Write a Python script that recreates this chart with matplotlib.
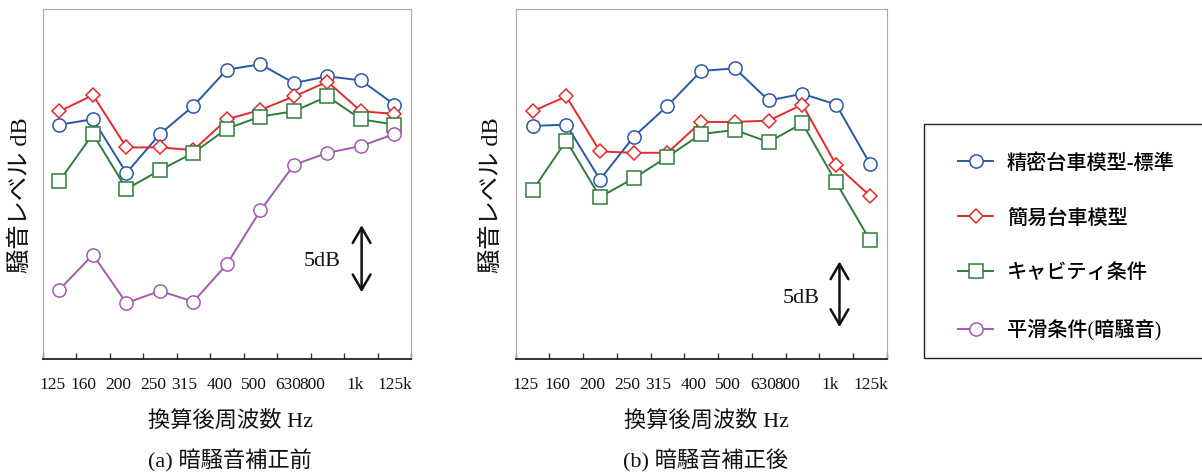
import matplotlib
matplotlib.use("Agg")
import matplotlib.pyplot as plt
from matplotlib.patches import Rectangle

# ---------------- data ----------------
freq_labels = ["125", "160", "200", "250", "315", "400", "500", "630", "800", "1k", "125k"]

series_names = ["精密台車模型-標準", "簡易台車模型", "キャビティ条件", "平滑条件(暗騒音)"]

# (a) before background-noise correction (relative dB)
a_precise = [17.5, 17.9, 13.9, 16.8, 18.9, 21.6, 22.0, 20.6, 21.1, 20.8, 19.0]
a_simple  = [18.5, 19.7, 15.8, 15.8, 15.6, 17.9, 18.6, 19.6, 20.7, 18.5, 18.3]
a_cavity  = [13.3, 16.8, 12.7, 14.1, 15.4, 17.2, 18.1, 18.5, 19.6, 17.9, 17.5]
a_smooth  = [5.2, 7.8, 4.2, 5.1, 4.3, 7.1, 11.1, 14.5, 15.4, 15.9, 16.8]

# (b) after background-noise correction (relative dB)
b_precise = [17.4, 17.5, 13.4, 16.6, 18.9, 21.5, 21.7, 19.3, 19.8, 19.0, 14.6]
b_simple  = [18.5, 19.6, 15.5, 15.4, 15.4, 17.7, 17.7, 17.8, 19.0, 14.5, 12.2]
b_cavity  = [12.6, 16.3, 12.1, 13.5, 15.1, 16.8, 17.1, 16.2, 17.6, 13.2, 8.9]

# 5 dB scale arrows: (x, y_low, y_high) and label position
a_arrow = (9.02, 5.0, 10.0)
b_arrow = (9.1, 2.4, 7.3)
a_arrow_text = (7.84, 7.3)
b_arrow_text = (7.95, 4.55)

xlabel = "換算後周波数 Hz"
ylabel = "騒音レベル dB"
titles = ["(a) 暗騒音補正前", "(b) 暗騒音補正後"]

# ---------------- style ----------------
W, H = 1202, 475
colors = ["#2a58a8", "#e62a2c", "#2f7d3a", "#a25bb0"]
markers = ["o", "D", "s", "o"]
msizes = [9.5, 7.0, 10.0, 9.5]
JP = ["Liberation Serif", "Noto Sans CJK JP"]

# tick-label anchor positions (layout, in category units)
label_pos = [-0.21, 0.73, 1.76, 2.80, 3.72, 4.79, 5.79, 6.84, 7.54, 8.83, 10.02]

fig = plt.figure(figsize=(W / 100, H / 100), dpi=100)
fig.patch.set_facecolor("white")

ax_a = fig.add_axes([42.7 / W, 1 - 359.3 / H, 368.5 / W, 350 / H])
ax_b = fig.add_axes([515.7 / W, 1 - 359.3 / H, 371 / W, 350 / H])

x = list(range(len(freq_labels)))


def style_axes(ax):
    ax.set_xlim(-0.5, len(freq_labels) - 0.5)
    ax.set_ylim(0, 26.1)
    ax.set_yticks([])
    for s in ["left", "top", "right"]:
        ax.spines[s].set_color("#a8a8a8")
        ax.spines[s].set_linewidth(0.8)
    ax.spines["bottom"].set_color("#222222")
    ax.spines["bottom"].set_linewidth(1.3)
    ax.set_xticks(label_pos)
    ax.set_xticklabels(freq_labels, fontfamily="Liberation Serif", fontsize=12.5)
    ax.tick_params(axis="x", which="major", length=0, pad=13, colors="#111111")
    ax.set_xticks([i - 0.5 for i in range(len(freq_labels) + 1)], minor=True)
    ax.tick_params(axis="x", which="minor", direction="in", length=4, width=1.0,
                   color="#333333")


def plot_series(ax, data_list):
    lines = []
    for i, d in enumerate(data_list):
        ln, = ax.plot(x, d, color=colors[i], marker=markers[i], markersize=msizes[i],
                      markerfacecolor="white", markeredgecolor=colors[i],
                      markeredgewidth=1.1, linewidth=1.4, label=series_names[i],
                      zorder=3 + i)
        lines.append(ln)
    return lines


def draw_arrow(ax, arr, txt):
    xa, y0, y1 = arr
    ax.annotate("", xy=(xa, y0), xytext=(xa, y1),
                arrowprops=dict(arrowstyle="<->,head_length=0.55,head_width=0.32",
                                color="#111111", lw=1.8, mutation_scale=20,
                                shrinkA=0, shrinkB=0))
    ax.text(txt[0], txt[1], "5dB", ha="center", va="center",
            fontfamily="Liberation Serif", fontsize=16, color="#111111")


style_axes(ax_a)
style_axes(ax_b)
handles = plot_series(ax_a, [a_precise, a_simple, a_cavity, a_smooth])
plot_series(ax_b, [b_precise, b_simple, b_cavity])
draw_arrow(ax_a, a_arrow, a_arrow_text)
draw_arrow(ax_b, b_arrow, b_arrow_text)

# axis labels and captions
for ax, cx, ylx, ttl in [(ax_a, 230, 20.7, titles[0]), (ax_b, 706, 492, titles[1])]:
    fig.text(cx / W, 1 - 421 / H, xlabel, ha="center", va="center",
             family=JP, fontsize=16, color="#111111")
    fig.text(cx / W, 1 - 461 / H, ttl, ha="center", va="center",
             family=JP, fontsize=16, color="#111111")
    fig.text(ylx / W, 1 - 195 / H, ylabel, ha="center", va="center", rotation=90,
             family=JP, fontsize=17.5, color="#111111")

# legend box (extends past the right edge, as in the reference)
fig.patches.append(Rectangle((924 / W, 1 - 358 / H), 0.4, (358 - 124) / H,
                             transform=fig.transFigure, fill=False,
                             edgecolor="#222222", linewidth=1.0))
leg = fig.legend(handles=handles, loc="upper left",
                 bbox_to_anchor=(958 / W, 1 - 154 / H), bbox_transform=fig.transFigure,
                 frameon=False, prop={"family": JP, "size": 14.5, "weight": "medium"},
                 handlelength=1.75, handletextpad=0.68, labelspacing=1.78,
                 borderpad=0, borderaxespad=0)

fig.savefig("out.png", dpi=100, facecolor="white")
